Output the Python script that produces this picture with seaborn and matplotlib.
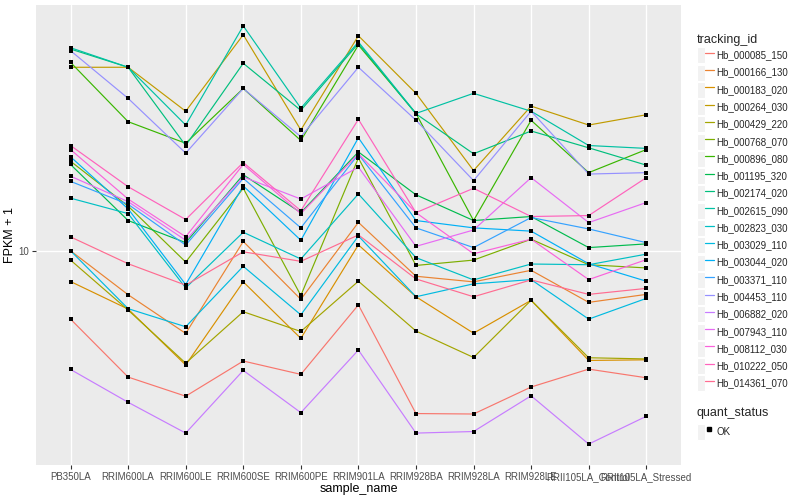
import numpy as np
import pandas as pd
import matplotlib
matplotlib.use("Agg")
import matplotlib.pyplot as plt
from matplotlib.lines import Line2D
from matplotlib.patches import Patch
from matplotlib.legend_handler import HandlerTuple
import seaborn as sns

samples = ["PB350LA", "RRIM600LA", "RRIM600LE", "RRIM600SE", "RRIM600PE",
           "RRIM901LA", "RRIM928BA", "RRIM928LA", "RRIM928LE",
           "RRII105LA_Control", "RRII105LA_Stressed"]

tracking_ids = ["Hb_000085_150", "Hb_000166_130", "Hb_000183_020", "Hb_000264_030",
                "Hb_000429_220", "Hb_000768_070", "Hb_000896_080", "Hb_001195_320",
                "Hb_002174_020", "Hb_002615_090", "Hb_002823_030", "Hb_003029_110",
                "Hb_003044_020", "Hb_003371_110", "Hb_004453_110", "Hb_006882_020",
                "Hb_007943_110", "Hb_008112_030", "Hb_010222_050", "Hb_014361_070"]

# ggplot default hue palette for 20 levels
colors = ["#F8766D", "#EA8331", "#D89000", "#C09B00", "#A3A500", "#7CAE00", "#39B600",
          "#00BB4E", "#00BF7D", "#00C1A3", "#00BFC4", "#00BAE0", "#00B0F6", "#35A2FF",
          "#9590FF", "#C77CFF", "#E76BF3", "#FA62DB", "#FF62BC", "#FF6C91"]

# FPKM + 1 per sample (order as in samples)
hb_000085_150 = [5.92, 3.78, 3.26, 4.28, 3.86, 6.61, 2.85, 2.84, 3.50, 4.02, 3.76]
hb_000166_130 = [10.05, 7.15, 5.30, 10.80, 6.90, 12.52, 8.25, 7.90, 8.64, 6.74, 7.17]
hb_000183_020 = [7.92, 6.40, 4.15, 7.90, 5.10, 10.52, 7.04, 5.31, 6.85, 4.30, 4.32]
hb_000264_030 = [41.6, 41.6, 29.6, 53.5, 25.6, 53.1, 34.0, 18.7, 30.8, 26.6, 28.8]
hb_000429_220 = [9.35, 6.35, 4.21, 6.27, 5.38, 7.94, 5.40, 4.40, 6.85, 4.39, 4.35]
hb_000768_070 = [20.1, 14.2, 9.21, 16.3, 7.11, 20.6, 8.97, 9.35, 10.99, 9.02, 8.80]
hb_000896_080 = [43.2, 27.3, 23.1, 35.3, 23.6, 49.4, 29.1, 12.7, 27.6, 18.4, 22.0]
hb_001195_320 = [19.6, 12.7, 10.7, 18.1, 13.5, 21.6, 15.5, 12.7, 13.1, 10.3, 10.6]
hb_002174_020 = [47.9, 41.6, 22.7, 42.9, 29.8, 50.0, 29.0, 21.3, 25.4, 22.3, 19.5]
hb_002615_090 = [48.4, 41.6, 26.6, 57.3, 30.3, 50.6, 29.1, 34.0, 29.6, 22.7, 22.2]
hb_002823_030 = [15.1, 13.4, 7.54, 11.6, 9.43, 15.6, 9.53, 8.02, 9.07, 9.02, 9.79]
hb_003029_110 = [10.05, 6.42, 5.58, 8.91, 6.12, 11.27, 7.04, 7.78, 8.04, 5.92, 6.95]
hb_003044_020 = [20.8, 13.9, 7.74, 16.6, 10.9, 24.1, 12.7, 12.0, 11.7, 9.09, 7.94]
hb_003371_110 = [17.2, 14.4, 10.5, 17.6, 12.0, 21.2, 12.0, 10.3, 13.0, 11.9, 10.7]
hb_004453_110 = [47.3, 32.7, 21.4, 35.3, 24.3, 41.6, 27.6, 17.3, 29.6, 18.2, 18.4]
hb_006882_020 = [4.01, 3.11, 2.45, 3.98, 2.87, 4.66, 2.45, 2.48, 3.27, 2.25, 2.79]
hb_007943_110 = [17.9, 14.7, 10.9, 17.8, 15.0, 19.2, 10.4, 11.8, 17.7, 12.5, 14.6]
hb_008112_030 = [22.0, 15.0, 11.2, 19.6, 13.4, 21.3, 13.5, 9.82, 10.99, 8.04, 9.38]
hb_010222_050 = [22.7, 16.5, 12.8, 19.9, 13.7, 27.8, 13.5, 16.3, 13.1, 13.2, 17.7]
hb_014361_070 = [11.19, 9.09, 7.70, 9.97, 9.26, 11.36, 8.08, 7.04, 8.02, 7.17, 7.51]

series = [hb_000085_150, hb_000166_130, hb_000183_020, hb_000264_030, hb_000429_220,
          hb_000768_070, hb_000896_080, hb_001195_320, hb_002174_020, hb_002615_090,
          hb_002823_030, hb_003029_110, hb_003044_020, hb_003371_110, hb_004453_110,
          hb_006882_020, hb_007943_110, hb_008112_030, hb_010222_050, hb_014361_070]

rows = []
for tid, vals in zip(tracking_ids, series):
    for s, v in zip(samples, vals):
        rows.append({"tracking_id": tid, "sample_name": s, "fpkm": v, "quant_status": "OK"})
df = pd.DataFrame(rows)

sns.set_theme(style="darkgrid", rc={"axes.facecolor": "#EBEBEB", "grid.color": "white"})
plt.rcParams["font.family"] = ["Liberation Sans", "DejaVu Sans"]

fig, ax = plt.subplots(figsize=(8, 5), dpi=100)
fig.subplots_adjust(left=0.045, right=0.851, bottom=0.07, top=0.99)

sns.lineplot(data=df, x="sample_name", y="fpkm", hue="tracking_id", hue_order=tracking_ids,
             palette=colors, estimator=None, sort=False, linewidth=0.85, legend=False, ax=ax)
sns.scatterplot(data=df, x="sample_name", y="fpkm", color="black", marker="s", s=7,
                linewidth=0, legend=False, ax=ax, zorder=3)

ax.set_yscale("log")
lo, hi = np.log10(df["fpkm"].min()), np.log10(df["fpkm"].max())
pad = 0.05 * (hi - lo)
ax.set_ylim(10 ** (lo - pad), 10 ** (hi + pad))
ax.set_yticks([10])
ax.set_yticklabels(["10"])
ax.yaxis.set_minor_locator(matplotlib.ticker.NullLocator())
ax.set_xlim(-0.6, len(samples) - 0.4)

ax.grid(True, color="white", linewidth=1.0)
for sp in ax.spines.values():
    sp.set_visible(False)
ax.tick_params(axis="both", length=3, width=0.8, color="#333333", labelsize=7,
               labelcolor="#4D4D4D", pad=2, bottom=True, left=True)
ax.set_xlabel("sample_name", fontsize=9, color="black", labelpad=0.5)
ax.set_ylabel("FPKM + 1", fontsize=9, color="black", labelpad=2)

key_bg = "#F2F2F2"
hmap = {tuple: HandlerTuple(ndivide=None, pad=0)}
handles = [(Patch(facecolor=key_bg, edgecolor="white", linewidth=0.8),
            Line2D([], [], color=c, linewidth=0.9)) for c in colors]
leg1 = fig.legend(handles, tracking_ids, loc="upper left", bbox_to_anchor=(0.871, 0.932),
                  title="tracking_id", fontsize=7, title_fontsize=9, frameon=False,
                  handler_map=hmap, handlelength=1.72, handleheight=2.15, labelspacing=0.134,
                  handletextpad=0.3, borderaxespad=0, borderpad=0, alignment="left")

ok_handle = [(Patch(facecolor=key_bg, edgecolor="white", linewidth=0.8),
              Line2D([], [], color="black", marker="s", markersize=2.5, linestyle="none"))]
leg2 = fig.legend(ok_handle, ["OK"], loc="upper left", bbox_to_anchor=(0.871, 0.186),
                  title="quant_status", fontsize=7, title_fontsize=9, frameon=False,
                  handler_map=hmap, handlelength=1.72, handleheight=2.15,
                  handletextpad=0.3, borderaxespad=0, borderpad=0, alignment="left")

fig.savefig("out.png", dpi=100)
